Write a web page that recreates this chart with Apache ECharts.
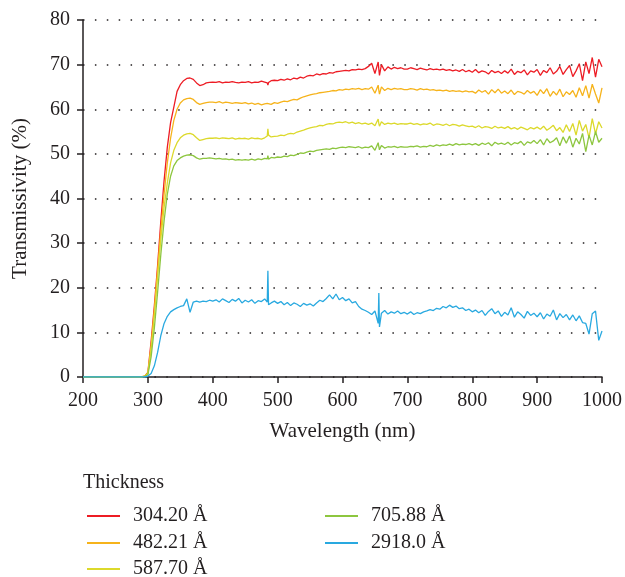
<!DOCTYPE html>
<html>
<head>
<meta charset="utf-8">
<script src="https://cdn.jsdelivr.net/npm/echarts@6/dist/echarts.min.js"></script>
<style>
  html, body { margin: 0; padding: 0; background: #fff; }
  #chart { width: 625px; height: 577px; }
</style>
</head>
<body>
<div id="chart"></div>
<script>
// wavelength grid (nm)
var wavelength = [200, 250, 290, 295,
  300, 305, 310, 315, 320, 325, 330, 335, 340, 345,
  350, 355, 360, 365, 370, 375, 380, 385, 390, 395,
  400, 405, 410, 415, 420, 425, 430, 435, 440, 445,
  450, 455, 460, 465, 470, 475, 480, 484, 485, 486, 490, 495,
  500, 505, 510, 515, 520, 525, 530, 535, 540, 545,
  550, 555, 560, 565, 570, 575, 580, 585, 590, 595,
  600, 605, 610, 615, 620, 625, 630, 635, 640, 645,
  650, 655, 656, 657, 660, 665, 670, 675, 680, 685, 690, 695,
  700, 705, 710, 715, 720, 725, 730, 735, 740, 745,
  750, 755, 760, 765, 770, 775, 780, 785, 790, 795,
  800, 805, 810, 815, 820, 825, 830, 835, 840, 845,
  850, 855, 860, 865, 870, 875, 880, 885, 890, 895,
  900, 905, 910, 915, 920, 925, 930, 935, 940, 945,
  950, 955, 960, 965, 970, 975, 980, 985, 990, 995,
  1000];

var names = ['304.20 Å', '482.21 Å', '587.70 Å', '705.88 Å', '2918.0 Å'];
var colors = ['#ed1c24', '#f6b31b', '#dcd92b', '#8dc63f', '#29a9e0'];

var t304 = [0, 0, 0, 0.2,
  1.0, 8, 16, 25, 35, 44, 51.5, 57, 60.5, 64,
  65.5, 66.4, 66.9, 67.0, 66.7, 65.9, 65.3, 65.5, 65.9, 66.0,
  66.1, 66.0, 66.2, 65.9, 66.1, 66.0, 66.2, 66.0, 65.9, 66.1,
  66.0, 66.2, 65.9, 66.1, 66.0, 66.3, 66.1, 65.9, 65.4, 66.0, 66.4, 66.5,
  66.4, 66.7, 66.5, 66.8, 66.6, 67.0, 66.8, 67.2, 67.0, 67.4,
  67.6, 67.5, 67.9, 67.7, 68.0, 67.9, 68.2, 68.1, 68.4, 68.5,
  68.6, 68.7, 68.6, 68.9, 68.8, 69.0, 68.9, 69.1, 69.6, 70.3,
  68.0, 70.6, 69.0, 67.6, 70.0, 68.6, 69.5, 69.0, 69.4, 69.1, 69.3, 69.0,
  69.0, 69.3, 69.1, 68.9, 69.2, 69.0, 68.8, 69.1, 68.9, 69.0,
  68.8, 69.0, 68.7, 68.9, 68.6, 68.8, 68.5, 68.9, 68.4, 68.7,
  68.3, 68.9, 68.2, 68.6, 68.4, 67.9, 68.7, 68.2, 68.5, 68.0,
  68.6, 68.1, 69.0, 67.8, 68.5, 68.2, 68.8, 67.7, 68.6, 68.3,
  68.9, 67.6, 68.7, 68.2, 69.3, 67.9, 68.5, 69.6, 67.8, 68.9,
  69.8, 67.3, 68.6, 70.2, 66.4, 70.6, 68.0, 71.6, 67.2, 71.2,
  69.5];

var t482 = [0, 0, 0, 0.2,
  0.9, 7, 15, 24, 33, 41, 48, 53.5, 57.5, 60.0,
  61.4, 62.1, 62.4, 62.5, 62.2, 61.5, 61.1, 61.3, 61.5, 61.6,
  61.6, 61.5, 61.7, 61.4, 61.6, 61.5, 61.3, 61.5, 61.4, 61.3,
  61.5, 61.2, 61.4, 61.1, 61.3, 61.0, 61.2, 61.3, 61.7, 61.2, 61.1, 61.5,
  61.3, 61.6, 61.8, 61.7, 62.0, 62.2, 62.1, 62.5, 62.8, 63.0,
  63.2, 63.4, 63.5, 63.7, 63.8, 63.9, 64.0, 64.2, 64.1, 64.4,
  64.3, 64.5, 64.4, 64.6, 64.5, 64.7, 64.4, 64.6, 64.5, 65.0,
  63.6, 65.4, 64.2, 63.4, 65.0, 64.2, 64.7, 64.4, 64.7, 64.5, 64.6, 64.4,
  64.4, 64.6, 64.5, 64.3, 64.6, 64.4, 64.5, 64.3, 64.4, 64.2,
  64.3, 64.1, 64.3, 64.0, 64.2, 64.0, 64.1, 63.9, 64.1, 63.9,
  64.0, 63.6, 64.3, 63.8, 64.2, 63.4, 64.4, 63.7, 64.5, 63.6,
  64.1, 63.5, 64.3, 63.3, 64.0, 63.8, 63.4, 64.2, 63.6, 64.0,
  63.1, 64.4, 63.5, 64.6, 62.9, 64.0, 63.2, 64.5, 62.8, 63.9,
  63.3, 64.2, 62.7, 64.8, 63.0, 65.3, 62.5, 65.6, 63.4, 61.4,
  64.8];

var t588 = [0, 0, 0, 0.2,
  0.8, 6.5, 14, 22.5, 31, 38, 43.5, 48, 50.8, 52.5,
  53.6, 54.2, 54.5, 54.6, 54.3, 53.6, 53.0, 53.2, 53.4, 53.5,
  53.5, 53.6, 53.4, 53.6, 53.5, 53.4, 53.6, 53.3, 53.5, 53.4,
  53.5, 53.3, 53.6, 53.4, 53.5, 53.3, 53.6, 54.0, 55.6, 54.2, 53.8, 53.9,
  54.0, 54.2, 54.1, 54.4, 54.6, 54.5, 54.9, 55.1, 55.3, 55.6,
  55.8, 56.0, 56.1, 56.4, 56.3, 56.6, 56.8, 56.7, 57.0, 57.1,
  57.0, 57.2, 56.9, 57.1, 56.8, 57.0, 56.7, 56.9, 56.6, 56.9,
  56.3, 57.8, 56.8, 56.2, 57.2, 56.6, 56.9, 56.7, 56.9, 56.6, 56.8, 56.7,
  56.7, 56.9, 56.6, 56.8, 56.5, 56.7, 56.6, 56.9, 56.4, 56.7,
  56.6, 56.4, 56.7, 56.3, 56.6, 56.5, 56.2, 56.5, 56.3, 56.1,
  56.2, 55.9, 56.3, 55.8, 56.1, 56.0, 55.7, 56.2, 55.8, 56.0,
  55.7, 56.1, 55.6, 55.9, 55.5, 56.0, 55.7, 55.4, 55.9, 55.6,
  56.0, 55.5, 56.2, 55.3, 55.8, 56.4, 55.2, 55.9, 54.8, 56.5,
  55.0, 56.8, 54.2, 57.5, 55.1, 56.6, 53.6, 57.9, 54.5, 57.2,
  55.8];

var t706 = [0, 0, 0, 0.1,
  0.5, 4.5, 11, 19, 27.5, 35, 41, 45, 47.3, 48.5,
  49.1, 49.5, 49.7, 49.8, 49.6, 49.1, 48.8, 49.0, 49.0, 49.1,
  49.0, 48.9, 49.0, 48.8, 48.9, 48.7, 48.8, 48.6, 48.7, 48.6,
  48.7, 48.6, 48.8, 48.6, 48.9, 48.7, 49.0, 48.9, 49.6, 48.8, 49.2, 49.1,
  49.3, 49.2, 49.5, 49.4, 49.7, 49.6, 49.9, 50.2, 50.1, 50.4,
  50.6, 50.5, 50.8, 50.9, 51.0, 51.1, 51.0, 51.3, 51.2, 51.4,
  51.5, 51.4, 51.6, 51.5, 51.4, 51.6, 51.3, 51.5, 51.4, 51.8,
  50.8, 52.5, 51.6, 50.9, 51.9, 51.3, 51.6, 51.5, 51.7, 51.4, 51.6, 51.5,
  51.5, 51.7, 51.6, 51.8, 51.5, 51.7, 51.6, 51.9, 51.7, 52.0,
  51.8, 52.0, 51.9, 52.2, 51.9, 52.3, 52.0, 52.2, 52.1, 52.3,
  52.0, 52.3, 51.9, 52.4, 52.1, 52.5, 51.8, 52.6, 52.2, 52.4,
  52.1, 52.6, 52.0, 52.5, 52.3, 52.8, 51.9, 52.7, 52.4, 53.0,
  52.3, 53.2, 52.0, 53.4, 52.5, 52.9, 53.6, 51.8, 53.8, 52.4,
  54.0, 51.5, 53.5, 52.2, 54.6, 50.5, 54.2, 52.0, 55.0, 52.6,
  53.5];

var t2918 = [0, 0, 0, 0,
  0.2, 0.8, 2.5, 5.5, 9.3, 12.0, 13.6, 14.6, 15.1, 15.5,
  15.8, 16.0, 17.5, 14.5, 16.8, 17.0, 16.8, 17.0, 16.9, 17.2,
  17.0, 17.3, 16.8, 17.5, 17.1, 16.7, 17.4, 17.0, 17.6, 16.6,
  17.2, 16.8, 17.3, 16.5, 17.1, 16.9, 17.5, 16.8, 23.8, 16.2, 16.6, 17.0,
  16.5, 16.9, 16.2, 16.7, 16.0, 16.6, 16.3, 15.8, 16.5, 16.1,
  16.4, 15.9, 16.6, 17.2, 16.9, 17.6, 18.4, 17.5, 18.6, 17.3,
  17.8, 17.1, 17.5, 16.6, 16.9, 15.8, 15.2, 14.9, 14.5, 14.0,
  14.8, 12.0, 18.8, 11.2, 14.3, 14.9, 14.1, 14.6, 14.3, 14.8, 14.2, 14.5,
  14.1, 14.6, 14.0, 14.4, 14.2, 14.6, 14.8, 15.1, 14.9, 15.4,
  15.2, 15.8, 15.5, 16.1, 15.6, 15.9, 15.3, 15.5, 14.9, 15.2,
  14.6, 15.0, 14.4, 14.9, 13.8, 14.7, 15.3, 14.2, 14.8, 13.6,
  14.5, 13.9, 15.5, 13.4, 14.6, 14.0, 13.2, 14.7, 13.8, 14.3,
  13.5, 14.4, 13.0, 14.1, 13.6, 15.0, 12.8, 14.2, 13.3, 14.0,
  12.8, 13.9, 12.6, 13.7, 12.2, 12.0, 9.6, 14.2, 14.8, 8.2,
  10.3];

var seriesValues = [t304, t482, t588, t706, t2918];

// legend slot for each thickness: [left, top]
var legendLeft = [87, 87, 87, 325, 325];
var legendTop = [506, 533, 559, 506, 533];

var ink = '#231f20';
var serif = 'Liberation Serif';

var chart = echarts.init(document.getElementById('chart'));

var series = [];
var legends = [];
for (var i = 0; i < names.length; i++) {
  var pts = [];
  for (var j = 0; j < wavelength.length; j++) {
    pts.push([wavelength[j], seriesValues[i][j]]);
  }
  series.push({
    name: names[i],
    type: 'line',
    data: pts,
    showSymbol: false,
    color: colors[i],
    lineStyle: { width: 1.3, color: colors[i] }
  });
  legends.push({
    data: [names[i]],
    left: legendLeft[i],
    top: legendTop[i],
    padding: 0,
    itemWidth: 33,
    itemHeight: 2,
    icon: 'rect',
    textStyle: { fontFamily: serif, fontSize: 20, color: ink, padding: [0, 0, 0, 8] }
  });
}

var option = {
  animation: false,
  textStyle: { fontFamily: serif },
  title: {
    text: 'Thickness',
    left: 83,
    top: 473,
    padding: 0,
    textStyle: { fontFamily: serif, fontSize: 20, fontWeight: 'normal', color: ink }
  },
  legend: legends,
  grid: { left: 83, right: 23, top: 20, bottom: 200 },
  xAxis: {
    type: 'value',
    min: 200,
    max: 1000,
    interval: 100,
    name: 'Wavelength (nm)',
    nameLocation: 'middle',
    nameGap: 44,
    nameTextStyle: { fontFamily: serif, fontSize: 21, color: ink },
    axisLine: { show: true, lineStyle: { color: ink, width: 1.5 } },
    axisTick: { show: true, length: 6, lineStyle: { color: ink, width: 1.5 } },
    axisLabel: { fontFamily: serif, fontSize: 20, color: ink, margin: 14, formatter: function (v) { return String(v); } },
    splitLine: { show: false }
  },
  yAxis: {
    type: 'value',
    min: 0,
    max: 80,
    interval: 10,
    name: 'Transmissivity (%)',
    nameLocation: 'middle',
    nameGap: 52,
    nameTextStyle: { fontFamily: serif, fontSize: 21, color: ink },
    axisLine: { show: true, lineStyle: { color: ink, width: 1.5 } },
    axisTick: { show: true, length: 6, lineStyle: { color: ink, width: 1.5 } },
    axisLabel: { fontFamily: serif, fontSize: 20, color: ink, margin: 13 },
    splitLine: { show: true, lineStyle: { color: ink, width: 1.5, type: [1.5, 10.4] } }
  },
  series: series
};

chart.setOption(option);
</script>
</body>
</html>
